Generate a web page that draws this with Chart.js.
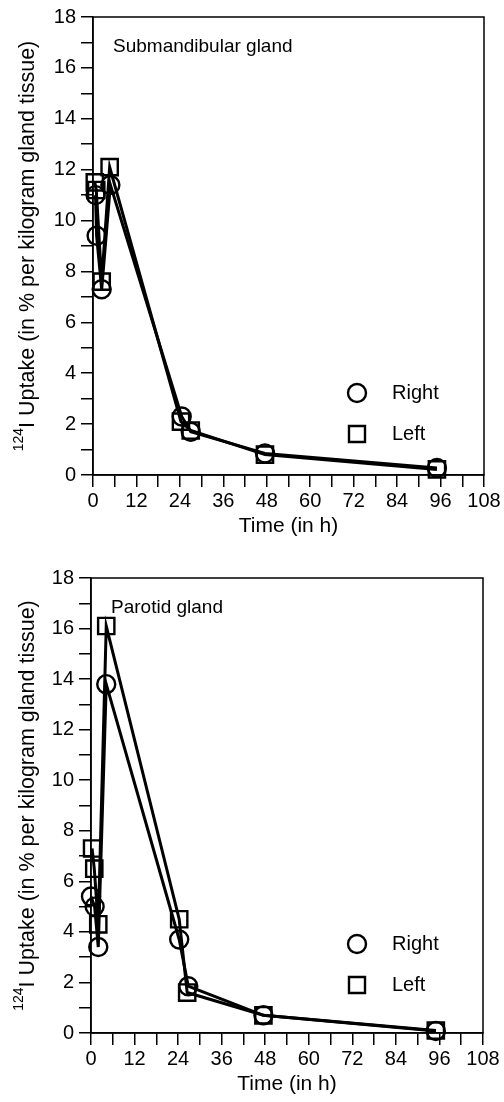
<!DOCTYPE html>
<html>
<head>
<meta charset="utf-8">
<script src="https://cdn.jsdelivr.net/npm/chart.js@4.4.1/dist/chart.umd.min.js"></script>
<style>
body { margin: 0; background: #fff; }
.panel { position: absolute; left: 0; width: 504px; height: 551px; }
</style>
</head>
<body>
<div class="panel" style="top:0"><canvas id="subChart" width="504" height="551"></canvas></div>
<div class="panel" style="top:551px"><canvas id="parChart" width="504" height="551"></canvas></div>
<script>
// x axis: time in hours, labelled every 12 h, ticks every 6 h
const timeMax = 108;
const timeLabelStep = 12;
const uptakeMax = 18;

// Submandibular gland
const subTimesRight = [0.7, 1.0, 2.4, 4.8, 24.5, 27.0, 47.5, 95.0];
const subRight = [11.0, 9.4, 7.3, 11.4, 2.3, 1.7, 0.85, 0.28];
const subTimesLeft = [0.5, 0.9, 2.4, 4.6, 24.3, 27.0, 47.5, 95.0];
const subLeft = [11.5, 11.2, 7.6, 12.1, 2.1, 1.75, 0.8, 0.22];

// Parotid gland
const parTimesRight = [0.0, 1.0, 2.0, 4.2, 24.3, 26.8, 47.5, 95.0];
const parRight = [5.4, 5.0, 3.4, 13.8, 3.7, 1.85, 0.7, 0.08];
const parTimesLeft = [0.3, 0.9, 2.0, 4.2, 24.3, 26.5, 47.5, 95.0];
const parLeft = [7.3, 6.5, 4.3, 16.1, 4.5, 1.6, 0.7, 0.1];

const seriesNames = ['Right', 'Left'];
const FONT = '"Liberation Sans", Arial, Helvetica, sans-serif';

function toPoints(times, values) {
    return times.map((t, i) => ({ x: t, y: values[i] }));
}

// frame, panel title, y title with superscript and the in-plot legend
const decor = {
    id: 'decor',
    afterDraw(chart, args, opts) {
        const ctx = chart.ctx;
        const a = chart.chartArea;
        ctx.save();
        ctx.strokeStyle = '#000';
        ctx.lineWidth = 1.5;
        ctx.strokeRect(a.left, a.top, a.right - a.left, a.bottom - a.top);

        ctx.fillStyle = '#000';
        ctx.textBaseline = 'middle';
        ctx.textAlign = 'left';
        ctx.font = '19px ' + FONT;
        ctx.fillText(opts.title, a.left + 20, a.top + 30);

        // legend
        chart.data.datasets.forEach((ds, i) => {
            const y = opts.legendY[i];
            const x = 357;
            ctx.lineWidth = 2.4;
            ctx.beginPath();
            if (ds.pointStyle === 'circle') {
                ctx.arc(x, y, 9, 0, Math.PI * 2);
            } else {
                ctx.rect(x - 8, y - 8, 16, 16);
            }
            ctx.stroke();
            ctx.font = '20px ' + FONT;
            ctx.fillText(ds.label, 392, y);
        });

        // rotated y title
        ctx.translate(27, (a.top + a.bottom) / 2);
        ctx.rotate(-Math.PI / 2);
        const main = 'I Uptake (in % per kilogram gland tissue)';
        ctx.font = '21.5px ' + FONT;
        const wMain = ctx.measureText(main).width;
        ctx.font = '14px ' + FONT;
        const wSup = ctx.measureText('124').width;
        const start = -(wMain + wSup) / 2;
        ctx.fillText('124', start, -8);
        ctx.font = '21.5px ' + FONT;
        ctx.fillText(main, start + wSup, 1);
        ctx.restore();
    }
};

function makeChart(id, rightPts, leftPts, cfg) {
    const ctx = document.getElementById(id).getContext('2d');
    return new Chart(ctx, {
        type: 'line',
        data: {
            datasets: [{
                label: seriesNames[0],
                data: rightPts,
                pointStyle: 'circle',
                pointRadius: 9,
                borderColor: '#000',
                backgroundColor: 'rgba(0,0,0,0)',
                pointBorderWidth: 2.4,
                borderWidth: 3,
                tension: 0
            }, {
                label: seriesNames[1],
                data: leftPts,
                pointStyle: 'rect',
                pointRadius: 11.5,
                borderColor: '#000',
                backgroundColor: 'rgba(0,0,0,0)',
                pointBorderWidth: 2.4,
                borderWidth: 3,
                tension: 0
            }]
        },
        options: {
            responsive: false,
            animation: false,
            clip: false,
            layout: {
                padding: { left: 0, right: 504 - cfg.right, top: cfg.top, bottom: 0 }
            },
            plugins: {
                legend: { display: false },
                tooltip: { enabled: false },
                decor: { title: cfg.title, legendY: [393, 434] }
            },
            scales: {
                x: {
                    type: 'linear',
                    min: 0,
                    max: timeMax,
                    afterFit: s => { s.height = 551 - cfg.bottom; },
                    ticks: {
                        stepSize: 6,
                        autoSkip: false,
                        maxRotation: 0,
                        padding: 2,
                        color: '#000',
                        font: { size: 20, family: FONT },
                        callback: v => (v % timeLabelStep === 0 ? v : '')
                    },
                    grid: { drawOnChartArea: false, tickLength: 12, color: '#000', lineWidth: 1.5 },
                    border: { color: '#000', width: 1.5 },
                    title: {
                        display: true,
                        text: 'Time (in h)',
                        color: '#000',
                        font: { size: 21, family: FONT },
                        padding: { top: 0, bottom: cfg.titlePad }
                    }
                },
                y: {
                    min: 0,
                    max: uptakeMax,
                    afterFit: s => { s.width = cfg.left; },
                    ticks: {
                        stepSize: 1,
                        autoSkip: false,
                        padding: 5,
                        color: '#000',
                        font: { size: 20, family: FONT },
                        callback: v => (v % 2 === 0 ? v : '')
                    },
                    grid: { drawOnChartArea: false, tickLength: 12, color: '#000', lineWidth: 1.5 },
                    border: { color: '#000', width: 1.5 }
                }
            }
        },
        plugins: [decor]
    });
}

makeChart('subChart', toPoints(subTimesRight, subRight), toPoints(subTimesLeft, subLeft),
    { title: 'Submandibular gland', left: 93, right: 484, top: 16, bottom: 475, titlePad: 12 });
makeChart('parChart', toPoints(parTimesRight, parRight), toPoints(parTimesLeft, parLeft),
    { title: 'Parotid gland', left: 91, right: 483, top: 27, bottom: 482, titlePad: 5 });
</script>
</body>
</html>
